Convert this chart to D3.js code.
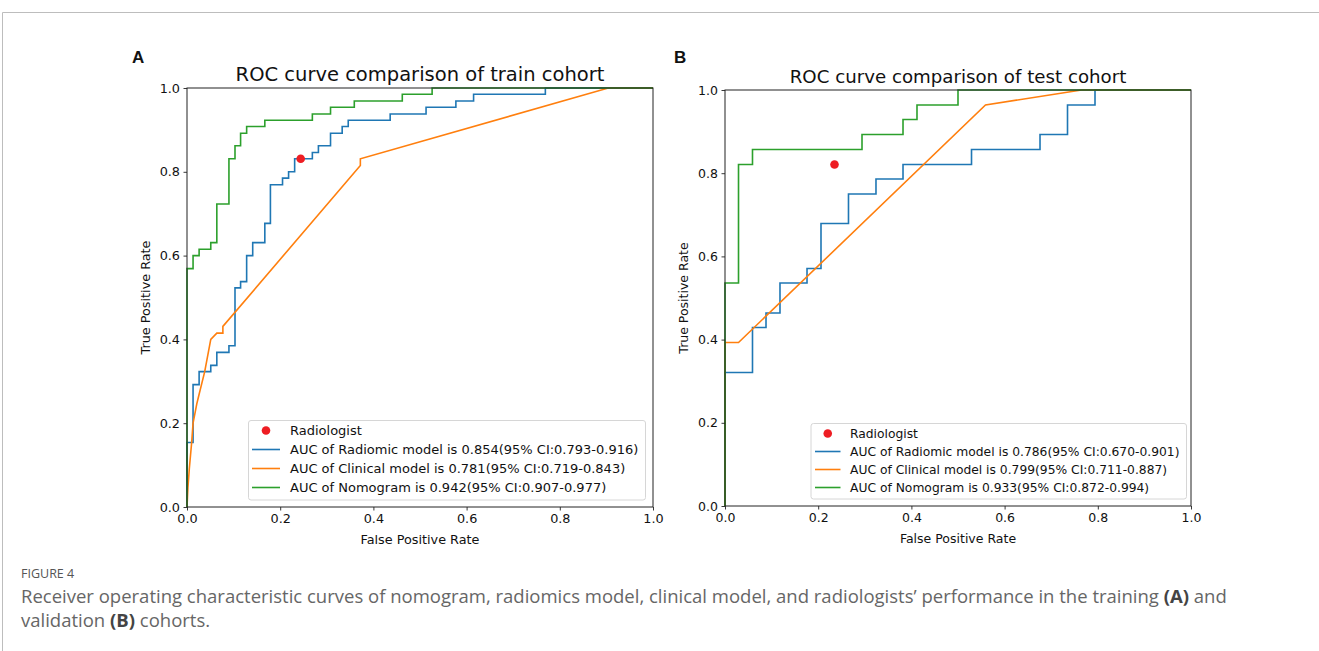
<!DOCTYPE html>
<html>
<head>
<meta charset="utf-8">
<script src="https://cdn.jsdelivr.net/npm/d3@7"></script>
<style>
    body { margin: 0; background: #fff; }
    svg text { font-family: "DejaVu Sans", sans-serif; }
</style>
</head>
<body>
<div id="canvas"></div>
<script>
"use strict"

/* Data (ROC vertices, fpr / tpr) */

// Train cohort (A)
let trainRadiomicFpr = [0, 0, 0.013, 0.013, 0.026, 0.026, 0.051, 0.051, 0.064, 0.064, 0.090, 0.090, 0.103, 0.103, 0.115, 0.115, 0.128, 0.128, 0.141, 0.141, 0.167, 0.167, 0.179, 0.179, 0.205, 0.205, 0.218, 0.218, 0.231, 0.231, 0.269, 0.269, 0.282, 0.282, 0.308, 0.308, 0.333, 0.333, 0.346, 0.346, 0.436, 0.436, 0.513, 0.513, 0.577, 0.577, 0.615, 0.615, 0.769, 0.769, 1];
let trainRadiomicTpr = [0, 0.154, 0.154, 0.292, 0.292, 0.323, 0.323, 0.338, 0.338, 0.369, 0.369, 0.385, 0.385, 0.523, 0.523, 0.538, 0.538, 0.600, 0.600, 0.631, 0.631, 0.677, 0.677, 0.769, 0.769, 0.785, 0.785, 0.800, 0.800, 0.831, 0.831, 0.846, 0.846, 0.862, 0.862, 0.892, 0.892, 0.908, 0.908, 0.923, 0.923, 0.938, 0.938, 0.954, 0.954, 0.969, 0.969, 0.985, 0.985, 1, 1];

let trainClinicalFpr = [0, 0.002, 0.005, 0.010, 0.013, 0.021, 0.026, 0.038, 0.051, 0.064, 0.077, 0.077, 0.372, 0.372, 0.904, 1];
let trainClinicalTpr = [0, 0.046, 0.092, 0.154, 0.200, 0.246, 0.269, 0.323, 0.400, 0.415, 0.415, 0.431, 0.815, 0.831, 1, 1];

let trainNomogramFpr = [0, 0, 0.013, 0.013, 0.026, 0.026, 0.051, 0.051, 0.064, 0.064, 0.090, 0.090, 0.103, 0.103, 0.115, 0.115, 0.128, 0.128, 0.167, 0.167, 0.269, 0.269, 0.308, 0.308, 0.359, 0.359, 0.462, 0.462, 0.526, 0.526, 1];
let trainNomogramTpr = [0, 0.569, 0.569, 0.600, 0.600, 0.615, 0.615, 0.631, 0.631, 0.723, 0.723, 0.831, 0.831, 0.862, 0.862, 0.892, 0.892, 0.908, 0.908, 0.923, 0.923, 0.938, 0.938, 0.954, 0.954, 0.969, 0.969, 0.985, 0.985, 1, 1];

let trainRadiologist = [0.244, 0.831];

// Test cohort (B)
let testRadiomicFpr = [0, 0, 0.059, 0.059, 0.088, 0.088, 0.118, 0.118, 0.176, 0.176, 0.206, 0.206, 0.265, 0.265, 0.324, 0.324, 0.382, 0.382, 0.529, 0.529, 0.676, 0.676, 0.735, 0.735, 0.794, 0.794, 1];
let testRadiomicTpr = [0, 0.321, 0.321, 0.429, 0.429, 0.464, 0.464, 0.536, 0.536, 0.571, 0.571, 0.679, 0.679, 0.750, 0.750, 0.786, 0.786, 0.821, 0.821, 0.857, 0.857, 0.893, 0.893, 0.964, 0.964, 1, 1];

let testClinicalFpr = [0, 0, 0.029, 0.559, 0.765, 1];
let testClinicalTpr = [0, 0.393, 0.393, 0.964, 1, 1];

let testNomogramFpr = [0, 0, 0.029, 0.029, 0.059, 0.059, 0.294, 0.294, 0.382, 0.382, 0.412, 0.412, 0.500, 0.500, 1];
let testNomogramTpr = [0, 0.536, 0.536, 0.821, 0.821, 0.857, 0.857, 0.893, 0.893, 0.929, 0.929, 0.964, 0.964, 1, 1];

let testRadiologist = [0.235, 0.821];

let tickValues = [0, 0.2, 0.4, 0.6, 0.8, 1.0];

let trainLegend = [
    "Radiologist",
    "AUC of Radiomic model is 0.854(95% CI:0.793-0.916)",
    "AUC of Clinical model is 0.781(95% CI:0.719-0.843)",
    "AUC of Nomogram is 0.942(95% CI:0.907-0.977)"
];
let testLegend = [
    "Radiologist",
    "AUC of Radiomic model is 0.786(95% CI:0.670-0.901)",
    "AUC of Clinical model is 0.799(95% CI:0.711-0.887)",
    "AUC of Nomogram is 0.933(95% CI:0.872-0.994)"
];

/* Look */
let svgWidth = 1319;
let svgHeight = 651;
let lineColors = ["#1f77b4", "#ff7f0e", "#2ca02c"];
let dotColor = "#ee1d23";

let svg = d3.select("#canvas")
    .append("svg")
    .attr("width", svgWidth)
    .attr("height", svgHeight);

// page frame (top rule and left rule)
svg.append("line")
    .attr("x1", 2.5).attr("x2", svgWidth)
    .attr("y1", 12.5).attr("y2", 12.5)
    .attr("stroke", "#bdbdbd").attr("stroke-width", 1);
svg.append("line")
    .attr("x1", 2.5).attr("x2", 2.5)
    .attr("y1", 12.5).attr("y2", svgHeight)
    .attr("stroke", "#bdbdbd").attr("stroke-width", 1);

function zipPoints(fpr, tpr) {
    let pts = [];
    for (let i = 0; i < fpr.length; i++) {
        pts.push([fpr[i], tpr[i]]);
    }
    return pts;
}

/*
    Draw one ROC panel
*/
function drawPanel(p) {
    let xScale = d3.scaleLinear().domain([0, 1]).range([p.left, p.right]);
    let yScale = d3.scaleLinear().domain([0, 1]).range([p.bottom, p.top]);

    let g = svg.append("g");

    let line = d3.line()
        .x(function(d) { return xScale(d[0]); })
        .y(function(d) { return yScale(d[1]); });

    for (let i = 0; i < p.series.length; i++) {
        g.append("path")
            .datum(zipPoints(p.series[i][0], p.series[i][1]))
            .attr("fill", "none")
            .attr("stroke", lineColors[i])
            .attr("stroke-width", 1.6)
            .attr("stroke-linejoin", "miter")
            .attr("d", line);
    }

    g.append("circle")
        .attr("cx", xScale(p.dot[0]))
        .attr("cy", yScale(p.dot[1]))
        .attr("r", 4.3)
        .attr("fill", dotColor);

    // axes
    let fmt = d3.format(".1f");
    let xAxis = d3.axisBottom(xScale).tickValues(tickValues).tickFormat(fmt).tickSize(3.5).tickPadding(3.5);
    let yAxis = d3.axisLeft(yScale).tickValues(tickValues).tickFormat(fmt).tickSize(3.5).tickPadding(3.5);

    g.append("g")
        .attr("transform", "translate(0," + p.bottom + ")")
        .call(xAxis);
    g.append("g")
        .attr("transform", "translate(" + p.left + ",0)")
        .call(yAxis);
    g.selectAll(".domain").remove();
    g.selectAll(".tick line").attr("stroke", "#222").attr("stroke-width", 0.9);
    g.selectAll(".tick text")
        .attr("fill", "#111")
        .style("font-family", "DejaVu Sans")
        .style("font-size", p.tickSize + "px");

    // frame of the axes
    g.append("rect")
        .attr("x", p.left).attr("y", p.top)
        .attr("width", p.right - p.left)
        .attr("height", p.bottom - p.top)
        .attr("fill", "none")
        .attr("stroke", "#222")
        .attr("stroke-width", 1);

    // title and labels
    g.append("text")
        .attr("x", (p.left + p.right) / 2)
        .attr("y", p.top - 7.5)
        .attr("text-anchor", "middle")
        .style("font-size", p.titleSize + "px")
        .attr("fill", "#111")
        .text(p.title);

    g.append("text")
        .attr("x", (p.left + p.right) / 2)
        .attr("y", p.bottom + 37)
        .attr("text-anchor", "middle")
        .style("font-size", p.tickSize + "px")
        .attr("fill", "#111")
        .text("False Positive Rate");

    g.append("text")
        .attr("transform", "translate(" + (p.left - 37) + "," + ((p.top + p.bottom) / 2) + ") rotate(-90)")
        .attr("text-anchor", "middle")
        .style("font-size", p.tickSize + "px")
        .attr("fill", "#111")
        .text("True Positive Rate");

    // panel letter
    svg.append("text")
        .attr("x", p.letterX)
        .attr("y", 63)
        .style("font-family", "Liberation Sans, Arial, sans-serif")
        .style("font-weight", "bold")
        .style("font-size", "17px")
        .attr("fill", "#111")
        .text(p.letter);

    drawLegend(p);
}

function drawLegend(p) {
    let lg = p.legend;
    svg.append("rect")
        .attr("x", lg.x).attr("y", lg.y)
        .attr("width", lg.w).attr("height", lg.h)
        .attr("rx", 2.5)
        .attr("fill", "#fff")
        .attr("fill-opacity", 0.85)
        .attr("stroke", "#d6d6d6")
        .attr("stroke-width", 1);

    for (let i = 0; i < p.labels.length; i++) {
        let cy = lg.y + lg.firstRow + i * lg.rowStep;
        if (i === 0) {
            svg.append("circle")
                .attr("cx", lg.x + (lg.lineX1 + lg.lineX2) / 2)
                .attr("cy", cy)
                .attr("r", 4.3)
                .attr("fill", dotColor);
        } else {
            svg.append("line")
                .attr("x1", lg.x + lg.lineX1).attr("x2", lg.x + lg.lineX2)
                .attr("y1", cy).attr("y2", cy)
                .attr("stroke", lineColors[i - 1])
                .attr("stroke-width", 1.6);
        }
        svg.append("text")
            .attr("x", lg.x + lg.textX)
            .attr("y", cy)
            .attr("dy", "0.36em")
            .style("font-size", lg.fontSize + "px")
            .attr("fill", "#111")
            .text(p.labels[i]);
    }
}

drawPanel({
    left: 187, right: 653, top: 88, bottom: 507,
    title: "ROC curve comparison of train cohort",
    titleSize: 19.5, tickSize: 12.8,
    letter: "A", letterX: 132,
    series: [
        [trainRadiomicFpr, trainRadiomicTpr],
        [trainClinicalFpr, trainClinicalTpr],
        [trainNomogramFpr, trainNomogramTpr]
    ],
    dot: trainRadiologist,
    labels: trainLegend,
    legend: { x: 248.5, y: 420.5, w: 397, h: 79.5, firstRow: 10, rowStep: 19,
              lineX1: 3.5, lineX2: 31.5, textX: 41.5, fontSize: 13 }
});

drawPanel({
    left: 725, right: 1191, top: 90, bottom: 506,
    title: "ROC curve comparison of test cohort",
    titleSize: 18.2, tickSize: 12.5,
    letter: "B", letterX: 674,
    series: [
        [testRadiomicFpr, testRadiomicTpr],
        [testClinicalFpr, testClinicalTpr],
        [testNomogramFpr, testNomogramTpr]
    ],
    dot: testRadiologist,
    labels: testLegend,
    legend: { x: 811, y: 423.5, w: 375.5, h: 75.5, firstRow: 10, rowStep: 18,
              lineX1: 4, lineX2: 29.5, textX: 39, fontSize: 12.3 }
});

// caption
let caption = svg.append("g");
caption.append("text")
    .attr("x", 21).attr("y", 578)
    .style("font-family", "Open Sans, sans-serif")
    .style("font-size", "12.5px")
    .attr("fill", "#555")
    .text("FIGURE 4");

let line1 = caption.append("text")
    .attr("x", 21).attr("y", 603)
    .style("font-family", "Open Sans, sans-serif")
    .style("font-size", "18.5px")
    .attr("fill", "#666");
line1.append("tspan").text("Receiver operating characteristic curves of nomogram, radiomics model, clinical model, and radiologists\u2019 performance in the training ");
line1.append("tspan").style("font-weight", "bold").attr("fill", "#444").text("(A)");
line1.append("tspan").text(" and");

let line2 = caption.append("text")
    .attr("x", 21).attr("y", 627)
    .style("font-family", "Open Sans, sans-serif")
    .style("font-size", "18.5px")
    .attr("fill", "#666");
line2.append("tspan").text("validation ");
line2.append("tspan").style("font-weight", "bold").attr("fill", "#444").text("(B)");
line2.append("tspan").text(" cohorts.");
</script>
</body>
</html>
